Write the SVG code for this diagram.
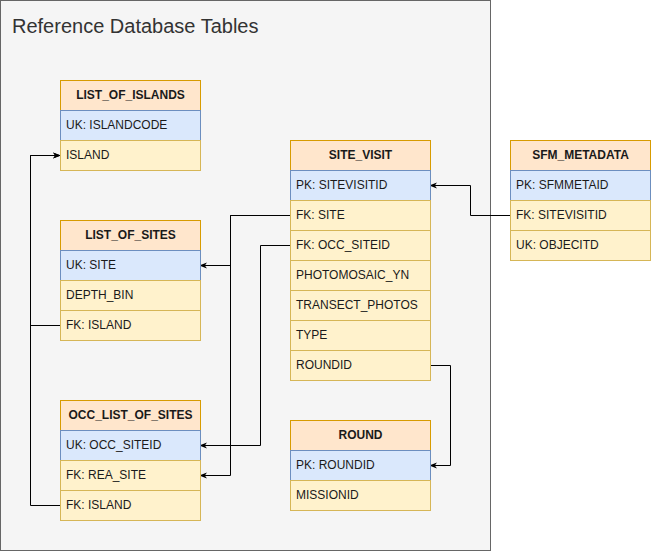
<svg xmlns="http://www.w3.org/2000/svg" width="651" height="552" viewBox="0 0 651 552">
<defs>
<style>
.hd{fill:#ffe6cc;stroke:#d79b00;stroke-width:1}
.pk{fill:#dae8fc;stroke:#6c8ebf;stroke-width:1}
.rw{fill:#fff2cc;stroke:#d6b656;stroke-width:1}
.ht{font-family:"Liberation Sans",Arial,sans-serif;font-size:12px;font-weight:bold;fill:#1a1a1a;text-anchor:middle}
.t{font-family:"Liberation Sans",Arial,sans-serif;font-size:12px;fill:#1a1a1a}
.c{fill:none;stroke:#000;stroke-width:1}
</style>
<marker id="arr" viewBox="0 0 10 10" refX="9" refY="5" markerWidth="8" markerHeight="8" markerUnits="userSpaceOnUse" orient="auto">
<path d="M0,1 L10,5 L0,9 L3,5 Z" fill="#000"/>
</marker>
</defs>
<g id="container">
<rect x="0.5" y="0.5" width="490" height="550" fill="#f5f5f5" stroke="#666666"/>
<text x="12" y="33" font-family="'Liberation Sans',Arial,sans-serif" font-size="20" fill="#333333">Reference Database Tables</text>
</g>
<g id="connectors">
<path class="c" d="M60.5,325.5 H30.5 V155.5 H60" marker-end="url(#arr)"/>
<path class="c" d="M60.5,505.5 H30.5 V155.5 H60" marker-end="url(#arr)"/>
<path class="c" d="M290.5,215.5 H230.5 V265.5 H200" marker-end="url(#arr)"/>
<path class="c" d="M290.5,215.5 H230.5 V475.5 H200" marker-end="url(#arr)"/>
<path class="c" d="M290.5,245.5 H260.5 V445.5 H200" marker-end="url(#arr)"/>
<path class="c" d="M510.5,215.5 H470.5 V185.5 H430" marker-end="url(#arr)"/>
<path class="c" d="M430.5,365.5 H450.5 V465.5 H430" marker-end="url(#arr)"/>
</g>
<g id="list_of_islands">
<rect class="hd" x="60.5" y="80.5" width="140" height="30"/>
<text class="ht" x="130.5" y="99">LIST_OF_ISLANDS</text>
<rect class="pk" x="60.5" y="110.5" width="140" height="30"/>
<text class="t" x="66" y="129">UK: ISLANDCODE</text>
<rect class="rw" x="60.5" y="140.5" width="140" height="30"/>
<text class="t" x="66" y="159">ISLAND</text>
</g>
<g id="list_of_sites">
<rect class="hd" x="60.5" y="220.5" width="140" height="30"/>
<text class="ht" x="130.5" y="239">LIST_OF_SITES</text>
<rect class="pk" x="60.5" y="250.5" width="140" height="30"/>
<text class="t" x="66" y="269">UK: SITE</text>
<rect class="rw" x="60.5" y="280.5" width="140" height="30"/>
<text class="t" x="66" y="299">DEPTH_BIN</text>
<rect class="rw" x="60.5" y="310.5" width="140" height="30"/>
<text class="t" x="66" y="329">FK: ISLAND</text>
</g>
<g id="occ_list_of_sites">
<rect class="hd" x="60.5" y="400.5" width="140" height="30"/>
<text class="ht" x="130.5" y="419">OCC_LIST_OF_SITES</text>
<rect class="pk" x="60.5" y="430.5" width="140" height="30"/>
<text class="t" x="66" y="449">UK: OCC_SITEID</text>
<rect class="rw" x="60.5" y="460.5" width="140" height="30"/>
<text class="t" x="66" y="479">FK: REA_SITE</text>
<rect class="rw" x="60.5" y="490.5" width="140" height="30"/>
<text class="t" x="66" y="509">FK: ISLAND</text>
</g>
<g id="site_visit">
<rect class="hd" x="290.5" y="140.5" width="140" height="30"/>
<text class="ht" x="360.5" y="159">SITE_VISIT</text>
<rect class="pk" x="290.5" y="170.5" width="140" height="30"/>
<text class="t" x="296" y="189">PK: SITEVISITID</text>
<rect class="rw" x="290.5" y="200.5" width="140" height="30"/>
<text class="t" x="296" y="219">FK: SITE</text>
<rect class="rw" x="290.5" y="230.5" width="140" height="30"/>
<text class="t" x="296" y="249">FK: OCC_SITEID</text>
<rect class="rw" x="290.5" y="260.5" width="140" height="30"/>
<text class="t" x="296" y="279">PHOTOMOSAIC_YN</text>
<rect class="rw" x="290.5" y="290.5" width="140" height="30"/>
<text class="t" x="296" y="309">TRANSECT_PHOTOS</text>
<rect class="rw" x="290.5" y="320.5" width="140" height="30"/>
<text class="t" x="296" y="339">TYPE</text>
<rect class="rw" x="290.5" y="350.5" width="140" height="30"/>
<text class="t" x="296" y="369">ROUNDID</text>
</g>
<g id="round">
<rect class="hd" x="290.5" y="420.5" width="140" height="30"/>
<text class="ht" x="360.5" y="439">ROUND</text>
<rect class="pk" x="290.5" y="450.5" width="140" height="30"/>
<text class="t" x="296" y="469">PK: ROUNDID</text>
<rect class="rw" x="290.5" y="480.5" width="140" height="30"/>
<text class="t" x="296" y="499">MISSIONID</text>
</g>
<g id="sfm_metadata">
<rect class="hd" x="510.5" y="140.5" width="140" height="30"/>
<text class="ht" x="580.5" y="159">SFM_METADATA</text>
<rect class="pk" x="510.5" y="170.5" width="140" height="30"/>
<text class="t" x="516" y="189">PK: SFMMETAID</text>
<rect class="rw" x="510.5" y="200.5" width="140" height="30"/>
<text class="t" x="516" y="219">FK: SITEVISITID</text>
<rect class="rw" x="510.5" y="230.5" width="140" height="30"/>
<text class="t" x="516" y="249">UK: OBJECITD</text>
</g>
</svg>
